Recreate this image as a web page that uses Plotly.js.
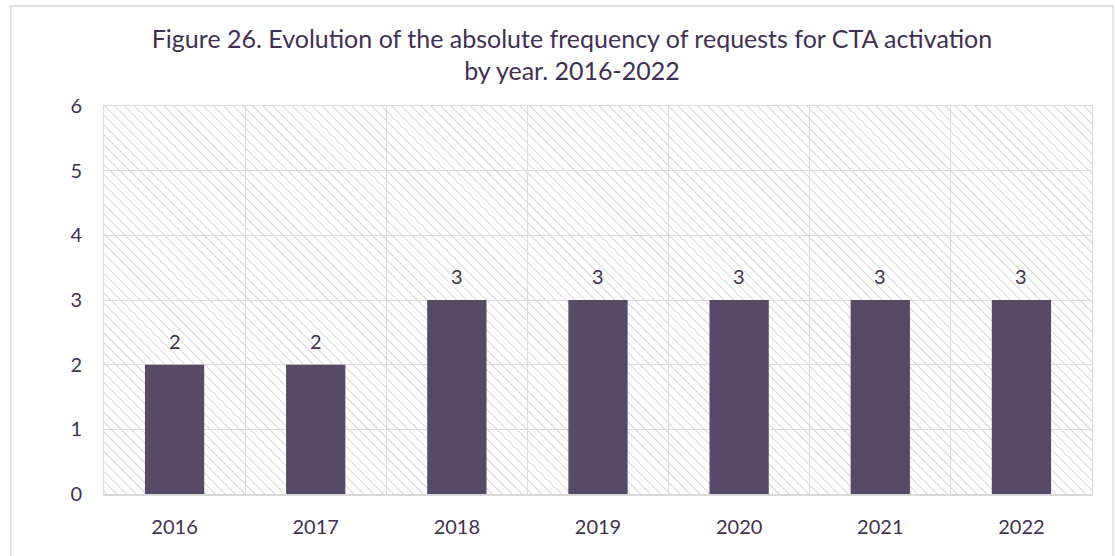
<!DOCTYPE html>
<html>
<head>
<meta charset="utf-8">
<script src="https://cdn.plot.ly/plotly-3.0.1.min.js"></script>
<style>
html,body{margin:0;padding:0;background:#fff;}
#chart{width:1115px;height:556px;}
</style>
</head>
<body>
<div id="chart"></div>
<script>
const years = ['2016', '2017', '2018', '2019', '2020', '2021', '2022'];
const requests = [2, 2, 3, 3, 3, 3, 3];
const yTicks = [0, 1, 2, 3, 4, 5, 6];
const titleText = 'Figure 26. Evolution of the absolute frequency of requests for CTA activation<br>by year. 2016-2022';

const textColor = '#3f3151';
const fontFamily = 'Lato, "Open Sans", sans-serif';

const W = 989, H = 388;
const svg = '<svg xmlns="http://www.w3.org/2000/svg" width="' + W + '" height="' + H + '">' +
  '<defs><pattern id="p" width="7" height="7" patternUnits="userSpaceOnUse" patternTransform="rotate(-45)">' +
  '<line x1="0" y1="0" x2="0" y2="7" stroke="#d6d6d6" stroke-width="2"/></pattern></defs>' +
  '<rect width="100%" height="100%" fill="#ffffff"/><rect width="100%" height="100%" fill="url(#p)"/></svg>';
const hatch = 'data:image/svg+xml;charset=utf-8,' + encodeURIComponent(svg);

const trace = {
  type: 'bar',
  x: years,
  y: requests,
  marker: {color: '#564a66'},
  hoverinfo: 'x+y'
};

const labels = years.map((yr, i) => ({
  x: i, y: requests[i], xref: 'x', yref: 'y',
  text: String(requests[i]), showarrow: false,
  yanchor: 'bottom', yshift: 10,
  font: {family: fontFamily, size: 20, color: textColor}
}));

const layout = {
  width: 1115,
  height: 556,
  margin: {l: 104, r: 23, t: 106, b: 62},
  paper_bgcolor: '#ffffff',
  plot_bgcolor: 'rgba(0,0,0,0)',
  bargap: 0.58,
  showlegend: false,
  font: {family: fontFamily, color: textColor},
  title: {
    text: titleText,
    font: {family: fontFamily, size: 25, color: textColor},
    x: 0.513, xanchor: 'center',
    y: 0.914, yanchor: 'top'
  },
  xaxis: {
    type: 'category',
    categoryorder: 'array',
    categoryarray: years,
    range: [-0.5, years.length - 0.5],
    tickson: 'boundaries',
    showgrid: true,
    gridcolor: '#dcdcdc',
    gridwidth: 1,
    showline: true,
    linecolor: '#d9d9d9',
    linewidth: 1.5,
    mirror: true,
    ticks: '',
    tickfont: {family: fontFamily, size: 20, color: textColor},
    ticklabelstandoff: 14,
    zeroline: false
  },
  yaxis: {
    range: [0, 6],
    tickvals: yTicks,
    showgrid: true,
    gridcolor: '#dcdcdc',
    gridwidth: 1,
    showline: true,
    linecolor: '#d9d9d9',
    linewidth: 1,
    mirror: true,
    ticks: '',
    tickfont: {family: fontFamily, size: 20, color: textColor},
    ticklabelstandoff: 17,
    zeroline: false
  },
  annotations: labels,
  images: [{
    source: hatch,
    xref: 'paper', yref: 'paper',
    x: 0, y: 1, sizex: 1, sizey: 1,
    xanchor: 'left', yanchor: 'top',
    sizing: 'stretch',
    layer: 'below'
  }],
  shapes: [{
    type: 'rect', xref: 'paper', yref: 'paper',
    x0: -0.0945, x1: 1.0212, y0: -0.25, y1: 1.258,
    line: {color: '#d9d9d9', width: 1.5},
    fillcolor: 'rgba(0,0,0,0)',
    layer: 'below'
  }]
};

Plotly.newPlot('chart', [trace], layout, {displayModeBar: false, staticPlot: true});
</script>
</body>
</html>
